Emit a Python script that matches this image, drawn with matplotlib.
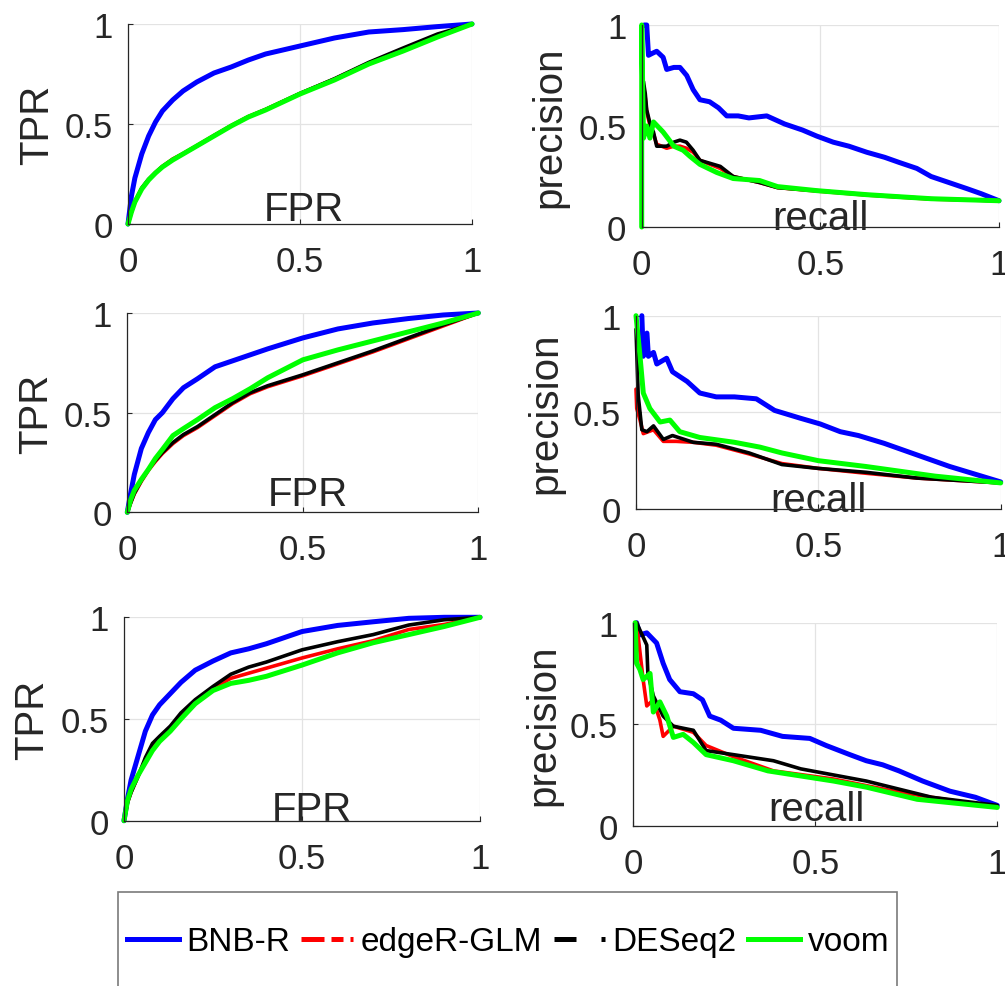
import numpy as np
import matplotlib
matplotlib.use("Agg")
import matplotlib.pyplot as plt
from matplotlib.lines import Line2D
from matplotlib.patches import Rectangle

plt.rcParams['font.family'] = ['Liberation Sans', 'DejaVu Sans']

methods = ["BNB-R", "edgeR-GLM", "DESeq2", "voom"]
colors = ["#0000ff", "#ff0000", "#000000", "#00ff00"]

# ROC curves: shared FPR grid, TPR
fpr = [0, 0.01, 0.02, 0.04, 0.06, 0.08, 0.1, 0.13, 0.16, 0.2, 0.25, 0.3, 0.35, 0.4, 0.5, 0.6, 0.7, 0.8, 0.9, 1.0]

roc1_bnb = [0, 0.14, 0.23, 0.35, 0.44, 0.51, 0.565, 0.62, 0.665, 0.71, 0.755, 0.785, 0.82, 0.85, 0.89, 0.93, 0.96, 0.972, 0.987, 1.0]
roc1_edger = [0, 0.06, 0.11, 0.178, 0.222, 0.258, 0.288, 0.325, 0.352, 0.392, 0.443, 0.492, 0.537, 0.573, 0.652, 0.725, 0.805, 0.875, 0.945, 1.0]
roc1_deseq = [0, 0.062, 0.112, 0.18, 0.224, 0.257, 0.287, 0.322, 0.351, 0.39, 0.441, 0.491, 0.536, 0.572, 0.653, 0.726, 0.808, 0.88, 0.95, 1.0]
roc1_voom = [0, 0.06, 0.11, 0.175, 0.22, 0.255, 0.285, 0.32, 0.35, 0.39, 0.44, 0.49, 0.535, 0.57, 0.65, 0.72, 0.80, 0.865, 0.935, 1.0]

roc2_bnb = [0, 0.10, 0.19, 0.32, 0.40, 0.465, 0.50, 0.57, 0.625, 0.67, 0.73, 0.76, 0.79, 0.82, 0.875, 0.92, 0.95, 0.972, 0.99, 1.0]
roc2_edger = [0, 0.048, 0.092, 0.155, 0.21, 0.255, 0.295, 0.345, 0.385, 0.425, 0.485, 0.545, 0.595, 0.63, 0.685, 0.745, 0.805, 0.87, 0.935, 1.0]
roc2_deseq = [0, 0.05, 0.095, 0.16, 0.215, 0.26, 0.30, 0.35, 0.39, 0.43, 0.49, 0.55, 0.60, 0.635, 0.69, 0.75, 0.81, 0.875, 0.94, 1.0]
roc2_voom = [0, 0.065, 0.11, 0.165, 0.215, 0.27, 0.315, 0.385, 0.42, 0.465, 0.525, 0.57, 0.62, 0.675, 0.765, 0.815, 0.86, 0.905, 0.95, 1.0]

roc3_bnb = [0, 0.11, 0.20, 0.32, 0.44, 0.52, 0.57, 0.625, 0.68, 0.74, 0.785, 0.825, 0.845, 0.87, 0.93, 0.96, 0.978, 0.995, 1.0, 1.0]
roc3_edger = [0, 0.09, 0.14, 0.22, 0.30, 0.37, 0.405, 0.455, 0.515, 0.575, 0.65, 0.70, 0.725, 0.75, 0.80, 0.845, 0.885, 0.94, 0.965, 1.0]
roc3_deseq = [0, 0.09, 0.14, 0.22, 0.31, 0.38, 0.415, 0.465, 0.53, 0.595, 0.66, 0.72, 0.755, 0.78, 0.84, 0.88, 0.915, 0.962, 0.988, 1.0]
roc3_voom = [0, 0.10, 0.155, 0.225, 0.285, 0.345, 0.39, 0.44, 0.50, 0.575, 0.64, 0.675, 0.69, 0.71, 0.765, 0.825, 0.875, 0.915, 0.955, 1.0]

# PR curves: (recall, precision) per method
pr1_bnb_r = [0.007, 0.014, 0.019, 0.03, 0.042, 0.06, 0.07, 0.09, 0.107, 0.126, 0.144, 0.163, 0.19, 0.215, 0.238, 0.27, 0.30, 0.35, 0.40, 0.45, 0.49, 0.536, 0.58, 0.63, 0.68, 0.72, 0.77, 0.81, 0.86, 0.91, 0.95, 1.0]
pr1_bnb_p = [1.0, 1.0, 0.85, 0.86, 0.87, 0.84, 0.78, 0.79, 0.79, 0.75, 0.68, 0.63, 0.62, 0.59, 0.55, 0.55, 0.54, 0.55, 0.51, 0.48, 0.45, 0.42, 0.40, 0.37, 0.345, 0.32, 0.29, 0.25, 0.22, 0.19, 0.165, 0.13]
pr1_edger_r = [0.005, 0.01, 0.014, 0.025, 0.033, 0.042, 0.07, 0.09, 0.107, 0.125, 0.144, 0.163, 0.22, 0.256, 0.33, 0.38, 0.49, 0.63, 0.81, 1.0]
pr1_edger_p = [0.70, 0.64, 0.57, 0.49, 0.46, 0.41, 0.39, 0.40, 0.40, 0.39, 0.37, 0.33, 0.29, 0.25, 0.22, 0.195, 0.178, 0.158, 0.138, 0.13]
pr1_deseq_r = [0.005, 0.01, 0.014, 0.025, 0.033, 0.042, 0.07, 0.09, 0.107, 0.125, 0.144, 0.163, 0.22, 0.256, 0.33, 0.38, 0.49, 0.63, 0.81, 1.0]
pr1_deseq_p = [0.72, 0.66, 0.58, 0.50, 0.47, 0.40, 0.40, 0.42, 0.43, 0.42, 0.38, 0.33, 0.30, 0.25, 0.22, 0.195, 0.18, 0.16, 0.14, 0.13]
pr1_voom_r = [0, 0, 0.005, 0.014, 0.023, 0.033, 0.06, 0.09, 0.116, 0.135, 0.163, 0.21, 0.256, 0.33, 0.38, 0.49, 0.63, 0.81, 1.0]
pr1_voom_p = [0, 1.0, 0.44, 0.50, 0.44, 0.52, 0.47, 0.40, 0.38, 0.35, 0.31, 0.27, 0.24, 0.23, 0.20, 0.18, 0.16, 0.14, 0.13]

pr2_bnb_r = [0.016, 0.02, 0.03, 0.034, 0.048, 0.057, 0.084, 0.10, 0.14, 0.175, 0.22, 0.27, 0.33, 0.38, 0.45, 0.505, 0.56, 0.61, 0.68, 0.77, 0.86, 0.93, 1.0]
pr2_bnb_p = [1.0, 0.79, 0.91, 0.79, 0.81, 0.75, 0.78, 0.71, 0.66, 0.60, 0.58, 0.58, 0.57, 0.51, 0.47, 0.44, 0.40, 0.38, 0.34, 0.28, 0.22, 0.18, 0.14]
pr2_edger_r = [0, 0.002, 0.011, 0.02, 0.048, 0.075, 0.11, 0.157, 0.22, 0.31, 0.40, 0.50, 0.63, 0.77, 1.0]
pr2_edger_p = [0.62, 0.52, 0.46, 0.39, 0.41, 0.35, 0.35, 0.345, 0.33, 0.285, 0.235, 0.21, 0.185, 0.16, 0.135]
pr2_deseq_r = [0, 0.006, 0.016, 0.03, 0.048, 0.075, 0.10, 0.157, 0.22, 0.31, 0.40, 0.50, 0.63, 0.77, 1.0]
pr2_deseq_p = [0.93, 0.59, 0.41, 0.40, 0.43, 0.36, 0.38, 0.345, 0.335, 0.29, 0.23, 0.21, 0.19, 0.16, 0.135]
pr2_voom_r = [0, 0.011, 0.02, 0.038, 0.066, 0.093, 0.12, 0.175, 0.27, 0.34, 0.40, 0.50, 0.63, 0.82, 1.0]
pr2_voom_p = [1.0, 0.79, 0.60, 0.52, 0.45, 0.46, 0.40, 0.37, 0.345, 0.32, 0.29, 0.25, 0.22, 0.17, 0.135]

pr3_bnb_r = [0.009, 0.018, 0.037, 0.064, 0.082, 0.10, 0.128, 0.165, 0.19, 0.21, 0.24, 0.275, 0.35, 0.41, 0.485, 0.53, 0.595, 0.64, 0.685, 0.73, 0.795, 0.87, 0.94, 1.0]
pr3_bnb_p = [1.0, 0.94, 0.95, 0.90, 0.80, 0.72, 0.66, 0.65, 0.62, 0.54, 0.52, 0.48, 0.47, 0.44, 0.43, 0.395, 0.35, 0.32, 0.30, 0.27, 0.22, 0.17, 0.14, 0.10]
pr3_edger_r = [0.009, 0.027, 0.037, 0.055, 0.073, 0.082, 0.11, 0.165, 0.20, 0.275, 0.385, 0.55, 0.73, 1.0]
pr3_edger_p = [1.0, 0.72, 0.59, 0.62, 0.52, 0.44, 0.49, 0.46, 0.395, 0.34, 0.27, 0.23, 0.165, 0.09]
pr3_deseq_r = [0.009, 0.037, 0.04, 0.055, 0.082, 0.11, 0.165, 0.20, 0.275, 0.385, 0.46, 0.55, 0.64, 0.73, 0.82, 1.0]
pr3_deseq_p = [1.0, 0.89, 0.75, 0.64, 0.54, 0.49, 0.47, 0.37, 0.35, 0.32, 0.28, 0.25, 0.22, 0.18, 0.14, 0.10]
pr3_voom_r = [0.005, 0.009, 0.018, 0.027, 0.046, 0.055, 0.073, 0.092, 0.11, 0.137, 0.165, 0.20, 0.275, 0.37, 0.46, 0.55, 0.64, 0.78, 1.0]
pr3_voom_p = [1.0, 0.80, 0.77, 0.72, 0.75, 0.56, 0.61, 0.54, 0.435, 0.45, 0.41, 0.35, 0.32, 0.27, 0.245, 0.22, 0.19, 0.13, 0.09]

W, H = 1005, 987
fig = plt.figure(figsize=(W / 100, H / 100), dpi=100)


def px_axes(x0, x1, y0, y1):
    # pixel box (left, right, top, bottom) -> figure axes
    return fig.add_axes([x0 / W, 1 - y1 / H, (x1 - x0) / W, (y1 - y0) / H])


dark = "#262626"


def style(ax, xlabel, ylabel, xl, yl):
    ax.set_xlim(0, 1)
    ax.set_ylim(0, 1)
    ax.set_xticks([0, 0.5, 1])
    ax.set_yticks([0, 0.5, 1])
    ax.set_xticklabels(["0", "0.5", "1"])
    ax.set_yticklabels(["0", "0.5", "1"])
    ax.tick_params(direction="in", length=3.5, width=0.8, colors=dark,
                   labelsize=25)
    ax.tick_params(axis="x", pad=15)
    ax.tick_params(axis="y", pad=11)
    for s in ["top", "right"]:
        ax.spines[s].set_visible(False)
    for s in ["left", "bottom"]:
        ax.spines[s].set_color(dark)
        ax.spines[s].set_linewidth(0.9)
    ax.grid(True, color="#e3e3e3", lw=0.9)
    ax.set_axisbelow(True)
    ax.set_xlabel(xlabel, fontsize=29, color=dark)
    ax.xaxis.label.set_va("baseline")
    ax.xaxis.set_label_coords(xl[0], xl[1])
    ax.set_ylabel(ylabel, fontsize=29, color=dark)
    ax.yaxis.set_label_coords(yl, 0.5)


lw_main = 3.6
lw_thin = 2.6

# ROC panels
roc_boxes = [(128, 472, 25, 225), (127.3, 478.3, 314, 513.3), (124, 480, 618.3, 821.7)]
roc_sets = [
    [roc1_bnb, roc1_edger, roc1_deseq, roc1_voom],
    [roc2_bnb, roc2_edger, roc2_deseq, roc2_voom],
    [roc3_bnb, roc3_edger, roc3_deseq, roc3_voom],
]
roc_xl = [(0.51, 0.021), (0.515, 0.037), (0.527, 0.004)]
roc_yl = [-0.208, -0.206, -0.204]

for box, curves, xl, yl in zip(roc_boxes, roc_sets, roc_xl, roc_yl):
    ax = px_axes(*box)
    for tpr, c, lw in zip(curves, colors, [lw_main, lw_thin, lw_thin, lw_main]):
        ax.plot(fpr, tpr, color=c, lw=lw, clip_on=False, solid_capstyle="round")
    style(ax, "FPR", "TPR", xl, yl)

# PR panels
pr_boxes = [(641.7, 999, 26, 228), (636, 1000.7, 316.7, 510), (633.3, 997.3, 623.7, 826.7)]
pr_sets = [
    [(pr1_bnb_r, pr1_bnb_p), (pr1_edger_r, pr1_edger_p), (pr1_deseq_r, pr1_deseq_p), (pr1_voom_r, pr1_voom_p)],
    [(pr2_bnb_r, pr2_bnb_p), (pr2_edger_r, pr2_edger_p), (pr2_deseq_r, pr2_deseq_p), (pr2_voom_r, pr2_voom_p)],
    [(pr3_bnb_r, pr3_bnb_p), (pr3_edger_r, pr3_edger_p), (pr3_deseq_r, pr3_deseq_p), (pr3_voom_r, pr3_voom_p)],
]
pr_xl = [(0.50, -0.01), (0.50, -0.009), (0.503, 0.03)]
pr_yl = [-0.204, -0.197, -0.196]

for box, curves, xl, yl in zip(pr_boxes, pr_sets, pr_xl, pr_yl):
    ax = px_axes(*box)
    for (r, p), c, lw in zip(curves, colors, [lw_main, lw_thin, lw_thin, lw_main]):
        ax.plot(r, p, color=c, lw=lw, clip_on=False, solid_capstyle="round")
    style(ax, "recall", "precision", xl, yl)

# legend
styles = ["-", (0, (4.6, 1.4, 2.4, 1.4, 0.8, 1.4)), (0, (4.4, 5.0, 0.8, 5.0)), "-"]
handles = [Line2D([], [], color=c, lw=lw_main, linestyle=ls, dash_capstyle="butt")
           for c, ls in zip(colors, styles)]
fig.legend(handles, methods, loc="center", bbox_to_anchor=(508 / W, 1 - 943 / H),
           ncol=4, frameon=False, fontsize=24, handlelength=1.55,
           handletextpad=0.22, columnspacing=0.35, borderpad=0)
fig.add_artist(Rectangle((118 / W, -0.02), (897 - 118) / W, (987 - 893) / H + 0.02,
                         transform=fig.transFigure, fill=False,
                         edgecolor="#7a7a7a", lw=1.2))

fig.savefig("out.png", dpi=100)
